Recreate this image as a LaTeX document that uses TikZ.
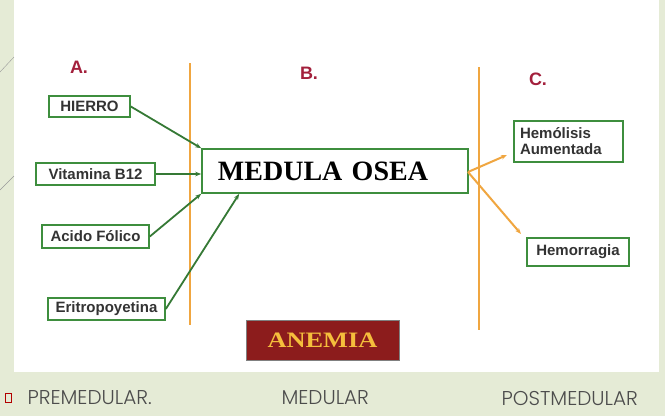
\documentclass[tikz,border=0pt]{standalone}
\usepackage{fontspec}
\usepackage{graphicx}
\setmainfont{Liberation Serif}
\setsansfont{Liberation Sans}
\newfontfamily\lightsans{Poppins Light}
\usetikzlibrary{arrows.meta}
\definecolor{bg}{HTML}{E5EBD6}
\definecolor{gbox}{HTML}{3E8E3E}
\definecolor{orng}{HTML}{F0A640}
\definecolor{lab}{HTML}{A3203C}
\definecolor{anem}{HTML}{8C1C1C}
\begin{document}
\begin{tikzpicture}[x=1pt,y=-1pt,
 box/.style={draw=gbox,line width=1.6pt,fill=white,inner sep=0pt,font=\sffamily\bfseries\fontsize{15}{16}\selectfont,text=black!80},
 garr/.style={draw=gbox!85!black,line width=1.8pt,-{Stealth[length=6pt]}},
 oarr/.style={draw=orng,line width=2pt,-{Stealth[length=6pt]}},
 olin/.style={draw=orng,line width=1.5pt},
 lbl/.style={text=lab,font=\sffamily\bfseries\fontsize{18}{18}\selectfont},
 bot/.style={text=black!70,font=\lightsans\fontsize{20}{20}\selectfont,anchor=west}]
\useasboundingbox (0,0) rectangle (665,416);
\fill[bg] (0,0) rectangle (665,416);
\fill[white] (14,0) rectangle (659,372);
\draw[black!40,line width=0.4pt] (0,72)--(14,57) (0,190)--(14,176);
% boxes
\node[box,minimum width=81pt,minimum height=21pt] (h) at (89.5,106.5) {HIERRO};
\node[box,minimum width=119pt,minimum height=22pt] (v) at (95.5,174) {Vitamina B12};
\node[box,minimum width=107pt,minimum height=23pt] (a) at (95.5,236.5) {Acido Fólico};
\node[box,minimum width=117pt,minimum height=22pt] (e) at (106.5,309) {Eritropoyetina};
\node[draw=gbox,line width=1.6pt,minimum width=266pt,minimum height=44pt,font=\bfseries\fontsize{28}{28}\selectfont] (m) at (335,171) {MEDULA\,\,OSEA\kern24pt};
\node[box,minimum width=109pt,minimum height=41pt,align=left,text width=97pt] (hm) at (568.5,141.5) {Hemólisis\\Aumentada};
\node[box,minimum width=102pt,minimum height=28pt] (hr) at (578,252) {Hemorragia};
\node[draw=black!50,fill=anem,minimum width=153pt,minimum height=40pt,text={rgb,255:red,245;green,190;blue,60},font=\bfseries\fontsize{22}{22}\selectfont] (an) at (322.5,340) {\scalebox{1.2}[1]{ANEMIA}};
% orange lines
\coordinate (l1a) at (190,63); \coordinate (l1b) at (190,325);
\coordinate (l2a) at (479,67); \coordinate (l2b) at (479,330);
\draw[olin] (l1a)--(l1b);
\draw[olin] (l2a)--(l2b);
% labels
\node[lbl] (la) at (79,67) {A.};
\node[lbl] (lb) at (309,73) {B.};
\node[lbl] (lc) at (538,79) {C.};
% arrows
\draw[garr] (h.east) -- (m.north west);
\draw[garr] (v.east) -- (m.west |- v.east);
\draw[garr] (a.east) -- (m.south west);
\draw[garr] (e.east) -- ([xshift=38pt]m.south west);
\coordinate (src) at (468,172);
\coordinate (t1) at (507,155);
\coordinate (t2) at (521,234);
\draw[oarr] (src) -- (t1);
\draw[oarr] (src) -- (t2);
% bottom
\node[draw=red!70!black,line width=0.6pt,minimum width=6pt,minimum height=9pt,inner sep=0pt] (bul) at (8,398) {};
\node[bot] (p1) at (24,398) {PREMEDULAR.};
\node[bot] (p2) at (278,398) {MEDULAR};
\node[bot] (p3) at (498,398) {POSTMEDULAR};
\end{tikzpicture}
\end{document}
